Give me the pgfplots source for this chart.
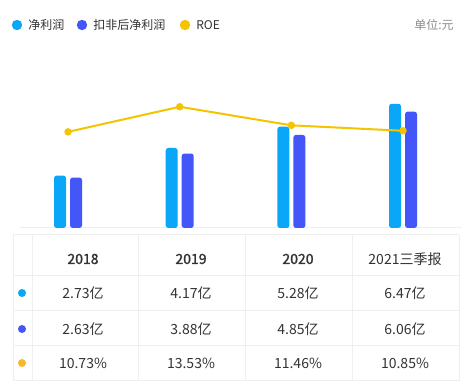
\documentclass[border=0pt]{standalone}
\usepackage{pgfplots}
\pgfplotsset{compat=1.18}
\usepackage{fontspec}
\setmainfont{Noto Sans CJK SC}
\newfontfamily\boldcjk{Noto Sans CJK SC}[FakeBold=1.5]
\definecolor{cNet}{HTML}{0AA6F7}
\definecolor{cDed}{HTML}{4356F7}
\definecolor{cRoe}{HTML}{F5C400}
\definecolor{cRoeDot}{HTML}{F6B92B}
\definecolor{txt}{HTML}{333333}
\definecolor{gridc}{HTML}{EFEFEF}
\begin{document}
\begin{tikzpicture}
\begin{scope}[x=0.75pt,y=0.75pt]
\path[use as bounding box, fill=white] (0,0) rectangle (469,390);
% baseline
\draw[gridc, line width=0.75pt] (20,162) -- (462,162);
\end{scope}
\begin{axis}[at={(9.15pt,121.5pt)}, anchor=south west, scale only axis,
  width=335pt, height=100.8pt, hide axis,
  xmin=-0.5, xmax=3.5, ymin=0, ymax=7,
  ybar=3pt, bar width=9pt, clip=false]
\addplot[fill=cNet, draw=none, rounded corners=2pt] coordinates {(0,2.73) (1,4.17) (2,5.28) (3,6.47)};
\addplot[fill=cDed, draw=none, rounded corners=2pt] coordinates {(0,2.63) (1,3.88) (2,4.85) (3,6.06)};
\end{axis}
\begin{axis}[at={(9.15pt,121.5pt)}, anchor=south west, scale only axis,
  width=335pt, height=100.8pt, hide axis,
  xmin=-0.5, xmax=3.5, ymin=0, ymax=15, clip=false]
\addplot[cRoe, line width=1.5pt, mark=*, mark size=2pt, mark options={fill=cRoe, draw=cRoe}] coordinates {(0,10.73) (1,13.53) (2,11.46) (3,10.85)};
\end{axis}
\begin{scope}[x=0.75pt,y=0.75pt]
% legend
\fill[cNet] (17,365) circle (3.9pt);
\node[anchor=west, inner sep=0, font=\fontsize{9}{10}\selectfont, text=txt] at (28,365) {净利润};
\fill[cDed] (82,365) circle (3.9pt);
\node[anchor=west, inner sep=0, font=\fontsize{9}{10}\selectfont, text=txt] at (93,365) {扣非后净利润};
\fill[cRoe] (185,365) circle (3.9pt);
\node[anchor=west, inner sep=0, font=\fontsize{9}{10}\selectfont, text=txt] at (196,365) {ROE};
\node[anchor=east, inner sep=0, font=\fontsize{9}{10}\selectfont, text=black!45] at (454,365) {单位:元};
% table grid
\foreach \yy in {155,114,79,44,9} {\draw[gridc, line width=0.75pt] (13,\yy) -- (459,\yy);}
\foreach \xx in {13,32,138,245,352,459} {\draw[gridc, line width=0.75pt] (\xx,9) -- (\xx,155);}
% header
\begin{scope}[every node/.style={inner sep=0, text=txt, font=\fontsize{10.5}{12}\selectfont}]
\node at (83,131) {\boldcjk 2018};
\node at (191,131) {\boldcjk 2019};
\node at (298,131) {\boldcjk 2020};
\node at (405,131) {2021三季报};
\node at (83,97) {2.73亿};
\node at (191,97) {4.17亿};
\node at (298,97) {5.28亿};
\node at (405,97) {6.47亿};
\node at (83,61) {2.63亿};
\node at (191,61) {3.88亿};
\node at (298,61) {4.85亿};
\node at (405,61) {6.06亿};
\node at (83,27) {10.73\%};
\node at (191,27) {13.53\%};
\node at (298,27) {11.46\%};
\node at (405,27) {10.85\%};
\end{scope}
\fill[cNet] (22,97) circle (3pt);
\fill[cDed] (22,61) circle (3pt);
\fill[cRoeDot] (22,27) circle (3pt);
\end{scope}
\end{tikzpicture}
\end{document}
